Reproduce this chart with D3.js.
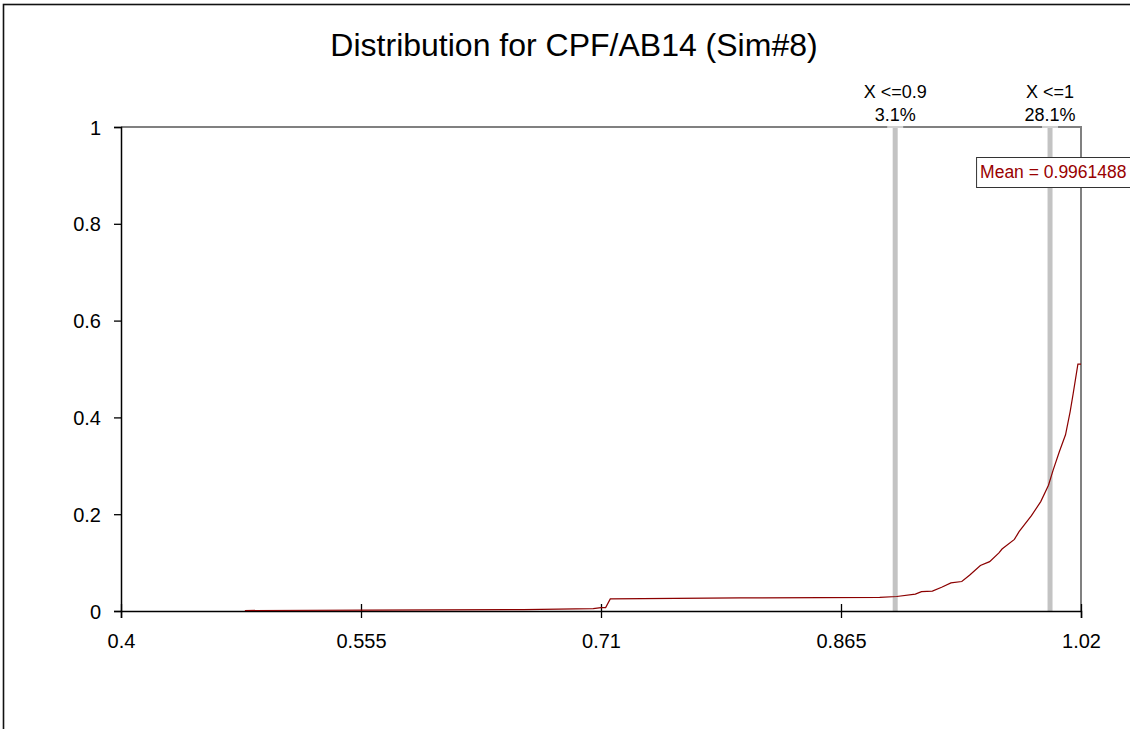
<!DOCTYPE html>
<html>
<head>
<meta charset="utf-8">
<script src="https://cdn.jsdelivr.net/npm/d3@7"></script>
<style>
  html, body { margin: 0; padding: 0; background: #fff; }
  svg { display: block; font-family: "Liberation Sans", Arial, sans-serif; }
</style>
</head>
<body>
<svg id="chart" width="1130" height="729"></svg>
<script>
// cumulative curve
var cdfX = [0.480, 0.560, 0.660, 0.705, 0.710, 0.713, 0.716, 0.800, 0.890, 0.901, 0.913, 0.917, 0.924,
            0.930, 0.936, 0.943, 0.948, 0.955, 0.961, 0.967, 0.969, 0.977, 0.980, 0.988, 0.994,
            0.999, 1.002, 1.006, 1.010, 1.013, 1.015, 1.018, 1.020];
var cdfY = [0.001, 0.002, 0.003, 0.005, 0.007, 0.007, 0.025, 0.027, 0.028, 0.030, 0.035, 0.040, 0.041,
            0.049, 0.058, 0.061, 0.074, 0.094, 0.102, 0.120, 0.128, 0.148, 0.164, 0.197, 0.226,
            0.260, 0.291, 0.329, 0.364, 0.412, 0.450, 0.510, 0.510];

var xTicks = [0.4, 0.555, 0.71, 0.865, 1.02];
var yTicks = [0, 0.2, 0.4, 0.6, 0.8, 1];

var markerX = [0.9, 1];
var markerLabel = ["X <=0.9", "X <=1"];
var markerPct = ["3.1%", "28.1%"];

var meanValue = 0.9961488;
var title = "Distribution for CPF/AB14 (Sim#8)";

var plotLeft = 121, plotRight = 1081, plotTop = 127, plotBottom = 611;

var svg = d3.select("#chart");

// outer frame
svg.append("rect")
    .attr("x", 3.5).attr("y", 4.5)
    .attr("width", 2000).attr("height", 2000)
    .attr("fill", "none")
    .attr("stroke", "#111")
    .attr("stroke-width", 1.6);

var x = d3.scaleLinear().domain([0.4, 1.02]).range([plotLeft, plotRight]);
var y = d3.scaleLinear().domain([0, 1]).range([plotBottom, plotTop]);

// title
svg.append("text")
    .attr("x", 574).attr("y", 56)
    .attr("text-anchor", "middle")
    .style("font-size", "32px")
    .attr("fill", "#000")
    .text(title);

// top and right border of the plot (grey)
svg.append("path")
    .attr("d", "M" + plotLeft + "," + plotTop + "H" + plotRight + "V" + plotBottom)
    .attr("fill", "none")
    .attr("stroke", "#808080")
    .attr("stroke-width", 2);

// marker bars
markerX.forEach(function (m, i) {
    svg.append("line")
        .attr("x1", x(m)).attr("x2", x(m))
        .attr("y1", y(1)).attr("y2", y(0))
        .attr("stroke", "#c3c3c3")
        .attr("stroke-width", 5);
    svg.append("line")
        .attr("x1", x(m) - 8).attr("x2", x(m) + 8)
        .attr("y1", y(1)).attr("y2", y(1))
        .attr("stroke", "#d0d0d0")
        .attr("stroke-width", 2);
    svg.append("text")
        .attr("x", x(m)).attr("y", 98)
        .attr("text-anchor", "middle")
        .style("font-size", "18px")
        .text(markerLabel[i]);
    svg.append("text")
        .attr("x", x(m)).attr("y", 121)
        .attr("text-anchor", "middle")
        .style("font-size", "18px")
        .text(markerPct[i]);
});

// y axis
var yAxis = d3.axisLeft(y).tickValues(yTicks).tickSize(7).tickPadding(13)
    .tickFormat(function (d) { return d3.format("")(+d.toFixed(1)); });
var gy = svg.append("g").attr("transform", "translate(" + plotLeft + ",0)").call(yAxis);
gy.select(".domain").attr("stroke", "#000").attr("stroke-width", 1.5);
gy.selectAll(".tick line").attr("stroke", "#000").attr("stroke-width", 1.3);
gy.selectAll("text").style("font-size", "20px").attr("fill", "#000").attr("dy", "0.35em");

// x axis
var xAxis = d3.axisBottom(x).tickValues(xTicks).tickSize(7).tickPadding(16)
    .tickFormat(function (d) { return d3.format("")(d); });
var gx = svg.append("g").attr("transform", "translate(0," + plotBottom + ")").call(xAxis);
gx.select(".domain").attr("stroke", "#000").attr("stroke-width", 1.5);
gx.selectAll(".tick line").attr("y1", -7).attr("stroke", "#000").attr("stroke-width", 1.3);
gx.selectAll("text").style("font-size", "20px").attr("fill", "#000");

// the curve
var pts = cdfX.map(function (d, i) { return [d, cdfY[i]]; });
var line = d3.line()
    .x(function (d) { return x(d[0]); })
    .y(function (d) { return y(d[1]); });
svg.append("path")
    .datum(pts)
    .attr("d", line)
    .attr("fill", "none")
    .attr("stroke", "#8b0000")
    .attr("stroke-width", 1.2);

// mean label
var mg = svg.append("g").attr("transform", "translate(" + (x(meanValue) - 68) + ",157)");
var mt = mg.append("text")
    .attr("x", 4).attr("y", 21)
    .style("font-size", "17.5px")
    .attr("fill", "#990000")
    .text("Mean = " + meanValue);
var bb = mt.node().getBBox();
mg.insert("rect", "text")
    .attr("x", 0.5).attr("y", 0.5)
    .attr("width", bb.width + 8).attr("height", 30)
    .attr("fill", "#fff")
    .attr("stroke", "#333")
    .attr("stroke-width", 1);
</script>
</body>
</html>
